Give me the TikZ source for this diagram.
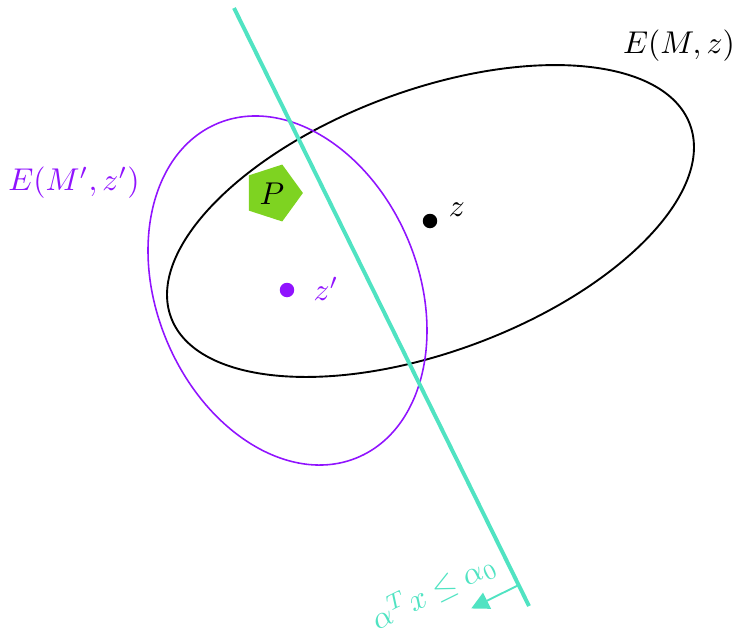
\documentclass[tikz,border=0pt]{standalone}
\usetikzlibrary{shapes.geometric,arrows.meta,calc}
\definecolor{tealc}{HTML}{50E3C2}
\definecolor{purp}{HTML}{9013FE}
\definecolor{grn}{HTML}{7ED321}
\begin{document}
\begin{tikzpicture}[x=0.3175pt,y=-0.3175pt,
  ell/.style={draw, ellipse, inner sep=0pt, outer sep=0pt},
  dotc/.style={circle, fill, inner sep=0pt, minimum size=4.6pt},
  lab/.style={inner sep=0pt},
  cutline/.style={tealc, line width=1.25pt},
  normarrow/.style={tealc, line width=0.6pt, -{Triangle[length=5.6pt,width=5.6pt]}}]
\useasboundingbox (0,0) rectangle (734,628);
% ellipses
\node[ell, line width=0.6pt, minimum width=175.8pt, minimum height=83pt, rotate=20.4] (E) at (430.5,221) {};
\node[ell, draw=purp, line width=0.5pt, minimum width=115pt, minimum height=83.06pt, rotate=112.75] (Ep) at (287.5,290.5) {};
% polytope P
\node[regular polygon, regular polygon sides=5, shape border rotate=-90, fill=grn, inner sep=0pt, minimum size=19pt] (P) at (273,193) {};
\node[lab] (Plab) at (272,194) {$P$};
% centers
\node[dotc, black] (z) at (430,221) {};
\node[lab] (zl) at (457,210) {$z$};
\node[dotc, purp] (zp) at (287,290) {};
\node[lab, purp] (zpl) at (326,289) {$z'$};
% ellipse labels
\node[lab] (EL) at (679,46) {$E(M,z)$};
\node[lab, purp] (EpL) at (74,183) {$E(M',z')$};
% cutting line
\coordinate (L1) at (234,8);
\coordinate (L2) at (529,606);
\draw[cutline] (L1) -- (L2);
\coordinate (A) at ($(L1)!0.965!(L2)$);
\coordinate (B) at ($(A)!16.8pt!-90:(L2)$);
\draw[normarrow] (A) -- (B);
\node[lab, tealc, rotate=26.3] (ineq) at (433,591) {$\alpha^T x \leq \alpha_0$};
\end{tikzpicture}
\end{document}
